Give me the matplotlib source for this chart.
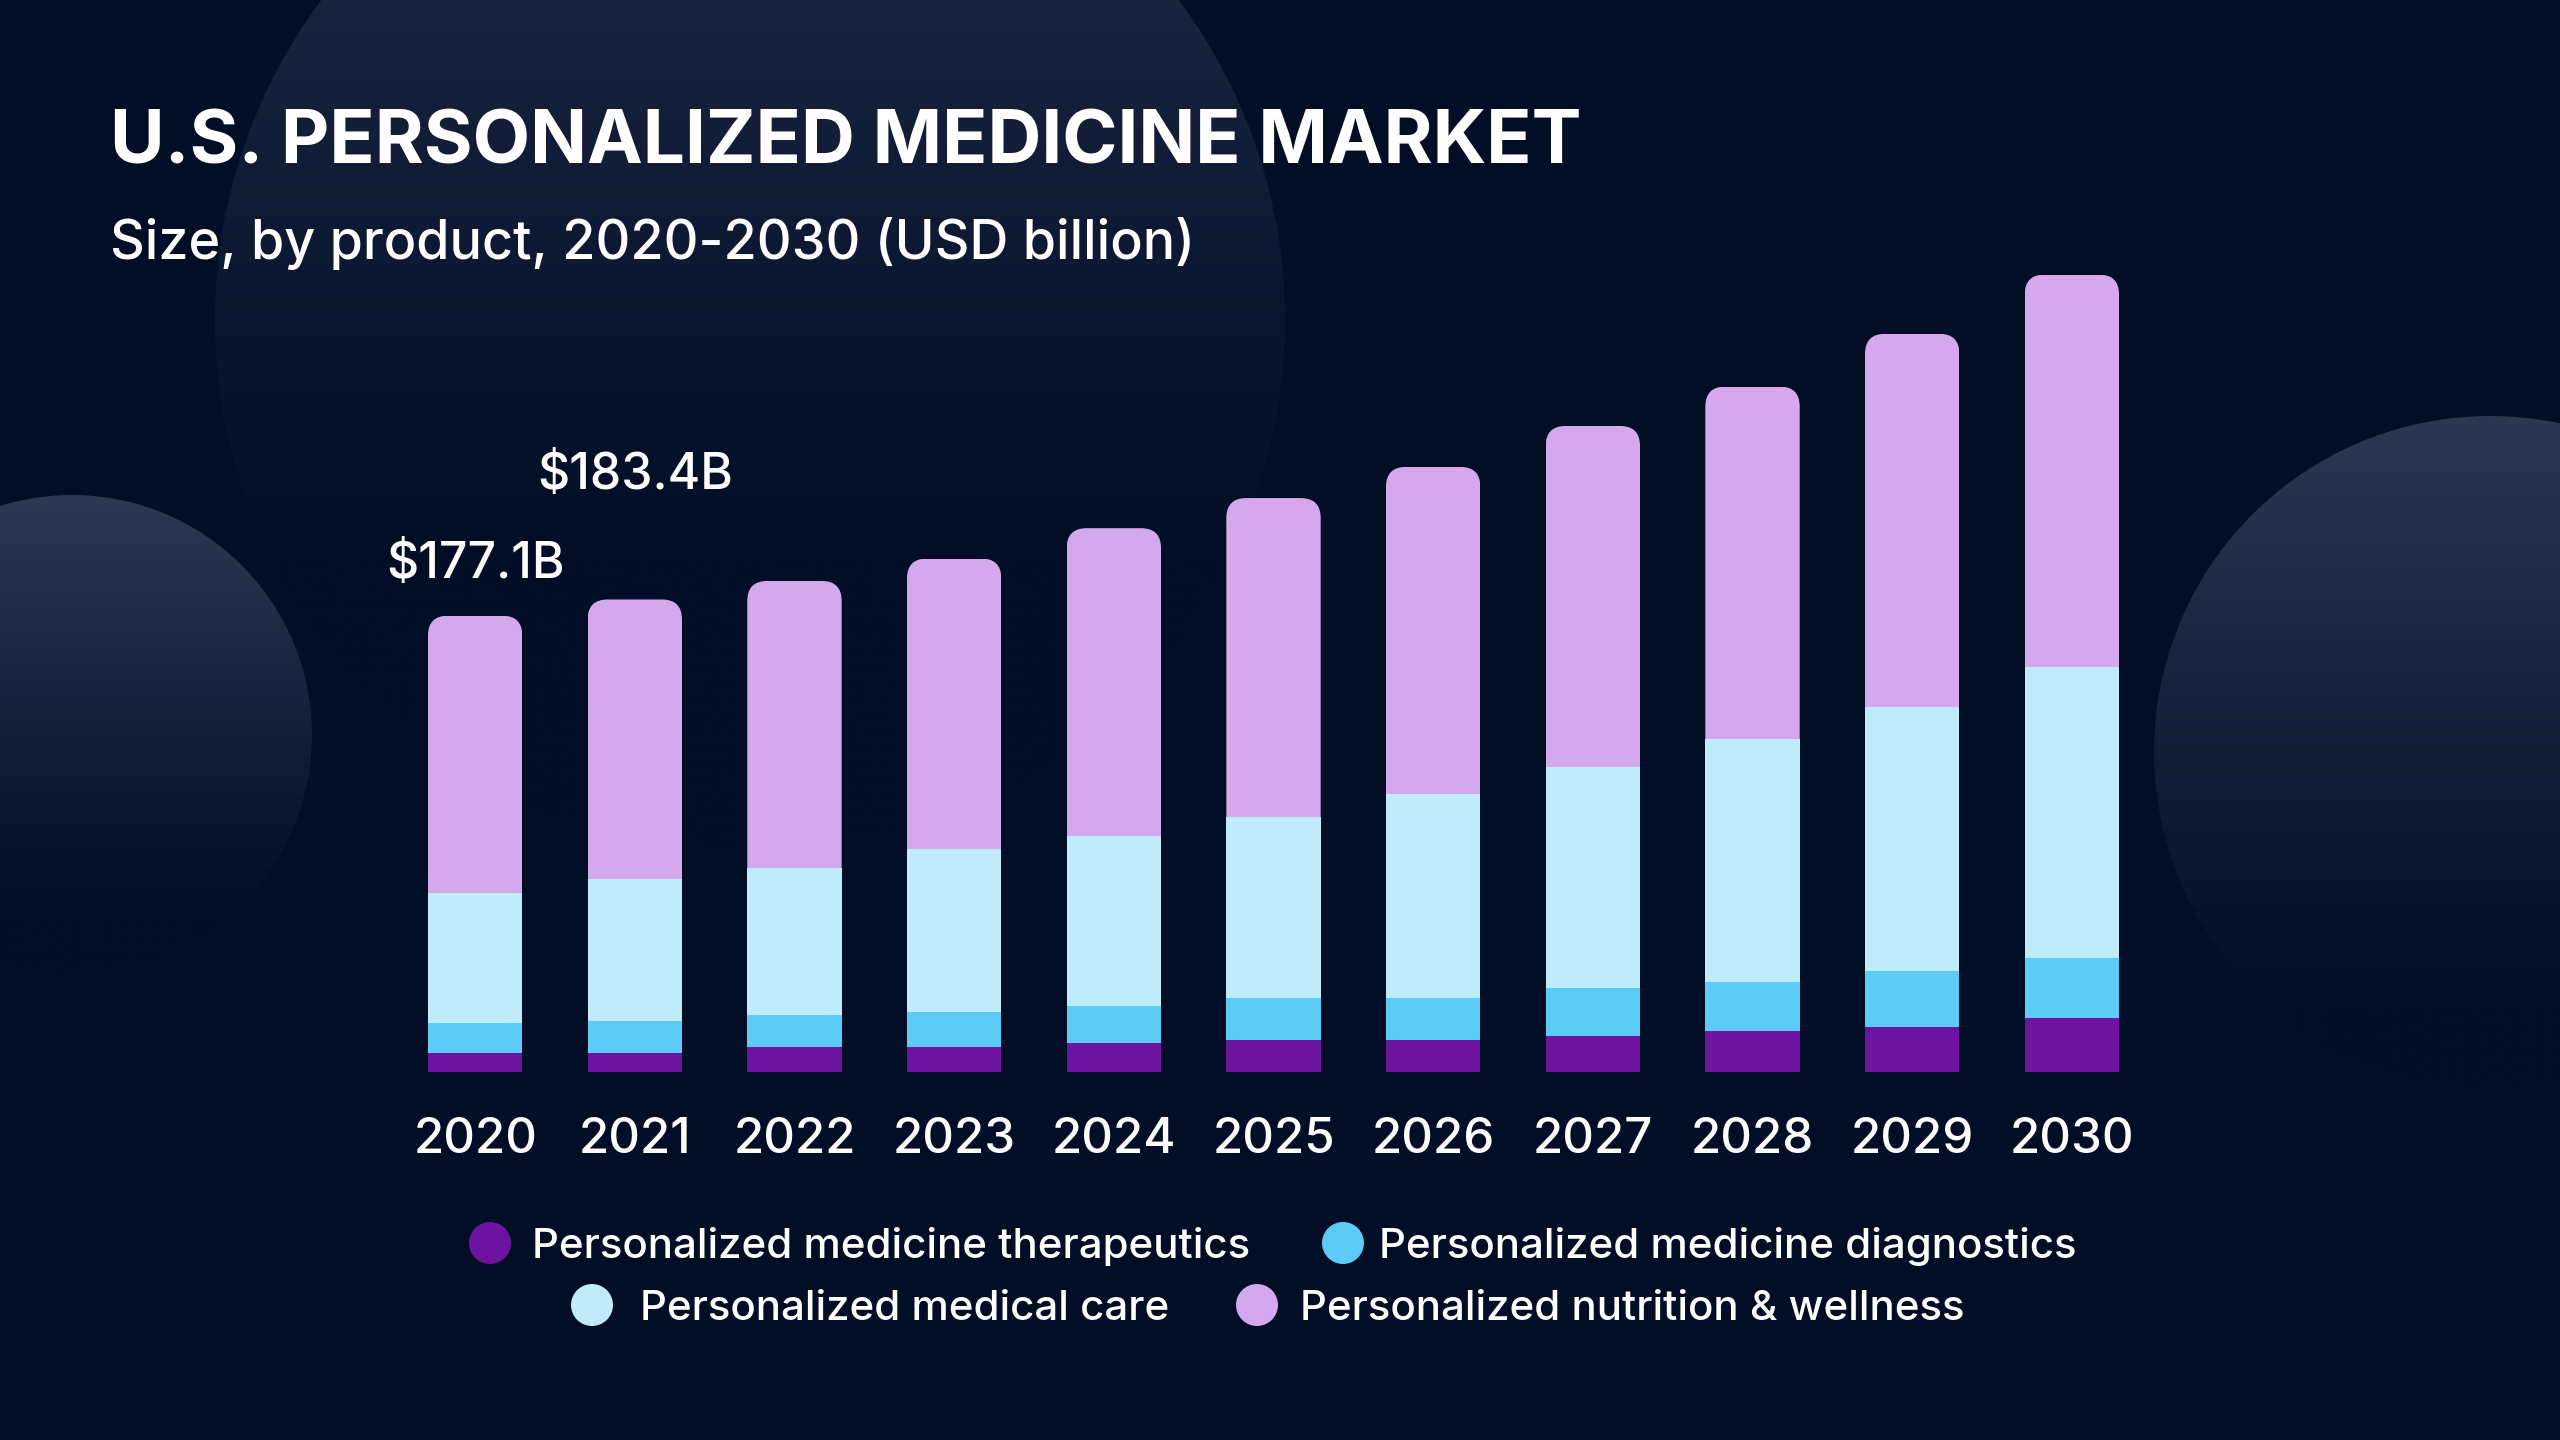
import matplotlib
matplotlib.use("Agg")
import matplotlib.pyplot as plt
import numpy as np
from matplotlib.patches import Circle, FancyBboxPatch
from matplotlib.colors import to_rgb

# ---------------- data ----------------
years = ["2020", "2021", "2022", "2023", "2024", "2025", "2026", "2027", "2028", "2029", "2030"]
therapeutics = [7.1, 7.1, 9.7, 9.7, 11.3, 12.1, 12.1, 13.7, 15.8, 17.3, 21.0]
diagnostics = [11.6, 12.5, 12.4, 13.6, 14.0, 16.6, 16.6, 18.7, 19.1, 21.7, 23.2]
medical_care = [50.7, 55.4, 56.9, 63.2, 66.2, 70.2, 79.2, 85.8, 94.2, 102.5, 112.9]
nutrition = [107.7, 108.4, 111.6, 112.8, 119.6, 123.9, 127.0, 132.6, 137.0, 145.1, 152.5]
series_names = ["Personalized medicine therapeutics", "Personalized medicine diagnostics",
                "Personalized medical care", "Personalized nutrition & wellness"]
value_label_idx = [0, 1]
value_label_text = ["$177.1B", "$183.4B"]

title = "U.S. PERSONALIZED MEDICINE MARKET"
subtitle = "Size, by product, 2020-2030 (USD billion)"

# ---------------- style ----------------
BG = "#020d26"
COLORS = ["#6c13a2", "#5ccbf6", "#c0ebfa", "#d5a8ed"]
FONT = ["Inter", "DejaVu Sans"]
plt.rcParams["font.family"] = FONT

W, H = 2560, 1440
fig = plt.figure(figsize=(W / 100, H / 100), dpi=100, facecolor=BG)

# background layer in pixel coordinates
bg = fig.add_axes([0, 0, 1, 1], zorder=0)
bg.set_xlim(0, W)
bg.set_ylim(H, 0)
bg.axis("off")
bg.set_facecolor(BG)


def grad_circle(cx, cy, r, top_col, fade=0.85):
    n = 256
    t = np.linspace(0, 1, n)
    a = np.clip(1 - t / fade, 0, 1) ** 1.1
    c1 = np.array(to_rgb(top_col))
    c0 = np.array(to_rgb(BG))
    rgb = c0[None, :] + (c1 - c0)[None, :] * a[:, None]
    img = np.repeat(rgb[:, None, :], 2, axis=1)
    circ = Circle((cx, cy), r, transform=bg.transData, facecolor="none", edgecolor="none")
    bg.add_patch(circ)
    im = bg.imshow(img, extent=(cx - r, cx + r, cy + r, cy - r), origin="upper",
                   aspect="auto", interpolation="bilinear", zorder=0)
    im.set_clip_path(circ)


grad_circle(750, 320, 535, "#222d48", fade=0.72)
grad_circle(72, 735, 240, "#2d3953", fade=0.88)
grad_circle(2490, 752, 336, "#2c3852", fade=0.88)

# ---------------- main bar axes ----------------
AX_L, AX_B, AX_W, AX_H = 395.3 / W, 1 - 1071.6 / H, 1756.4 / W, 901.0 / H
YMAX = 350.0
ax = fig.add_axes([AX_L, AX_B, AX_W, AX_H], zorder=2)
ax.set_facecolor("none")
ax.set_xlim(-0.5, len(years) - 0.5)
ax.set_ylim(0, YMAX)
for s in ax.spines.values():
    s.set_visible(False)
ax.set_yticks([])

x = np.arange(len(years))
bw = 0.591
stacks = [therapeutics, diagnostics, medical_care, nutrition]
bottom = np.zeros(len(years))
containers = []
for vals, col, name in zip(stacks, COLORS, series_names):
    c = ax.bar(x, vals, bw, bottom=bottom, color=col, label=name, linewidth=0, zorder=3)
    containers.append(c)
    bottom = bottom + np.array(vals)
totals = bottom

# rounded tops on the top segment
px_per_x = AX_W * W / (len(years))
px_per_y = AX_H * H / YMAX
rad_px = 20.0
rx = rad_px / px_per_x
ry = rad_px / px_per_y
for rect, tot in zip(containers[-1].patches, totals):
    fb = FancyBboxPatch((rect.get_x(), 0), rect.get_width(), tot,
                        boxstyle=f"round,pad=0,rounding_size={rx}",
                        mutation_aspect=ry / rx, transform=ax.transData)
    rect.set_clip_path(fb)

# year tick labels
ax.set_xticks(x, years)
ax.tick_params(axis="x", length=0, pad=33, labelsize=36, labelcolor="white")
for tl in ax.get_xticklabels():
    tl.set_fontweight("medium")

# value labels
label_offsets = [20.0, 48.0]
val_texts = []
for i, txt, off in zip(value_label_idx, value_label_text, label_offsets):
    val_texts.append(ax.text(x[i], totals[i] + off, txt, ha="center", va="center",
                             color="white", fontsize=36, fontweight="medium", zorder=5))

# ---------------- titles ----------------
t_title = bg.text(110, 163, title, color="white", fontsize=64, fontweight="bold",
                  ha="left", va="baseline")
t_sub = bg.text(110, 259, subtitle, color="white", fontsize=44, fontweight="medium",
                ha="left", va="baseline")

# ---------------- legend ----------------
leg_rows = [(1243, [(490, 532, 0), (1343, 1379, 1)]),
            (1305, [(592, 640, 2), (1257, 1300, 3)])]
leg_texts = []
for cy, items in leg_rows:
    for mx, tx, k in items:
        bg.add_patch(Circle((mx, cy), 21, facecolor=COLORS[k], edgecolor="none", zorder=3))
        t = bg.text(tx, cy, series_names[k], color="white", fontsize=29, fontweight="medium",
                    ha="left", va="center_baseline", zorder=3)
        leg_texts.append((t, k))

# ---------------- fit text widths to reference ----------------
fig.canvas.draw()
r = fig.canvas.get_renderer()


def fit(t, target):
    w = t.get_window_extent(r).width
    t.set_fontsize(t.get_fontsize() * target / w)


fit(t_title, 1474)
fit(t_sub, 1086)
targets = {0: 722, 1: 698, 2: 530, 3: 657}
ratios = [targets[k] / t.get_window_extent(r).width for t, k in leg_texts]
mr = float(np.mean(ratios))
for t, k in leg_texts:
    t.set_fontsize(t.get_fontsize() * mr)

# year labels width ~124 px for "2020"
tl = ax.get_xticklabels()[0]
wy = tl.get_window_extent(r).width
ax.tick_params(axis="x", labelsize=36 * 124 / wy)

# value labels: "$183.4B" ~ 196 px wide
wv = val_texts[1].get_window_extent(r).width
for t in val_texts:
    t.set_fontsize(t.get_fontsize() * 196 / wv)

fig.savefig("out.png", dpi=100, facecolor=BG)
